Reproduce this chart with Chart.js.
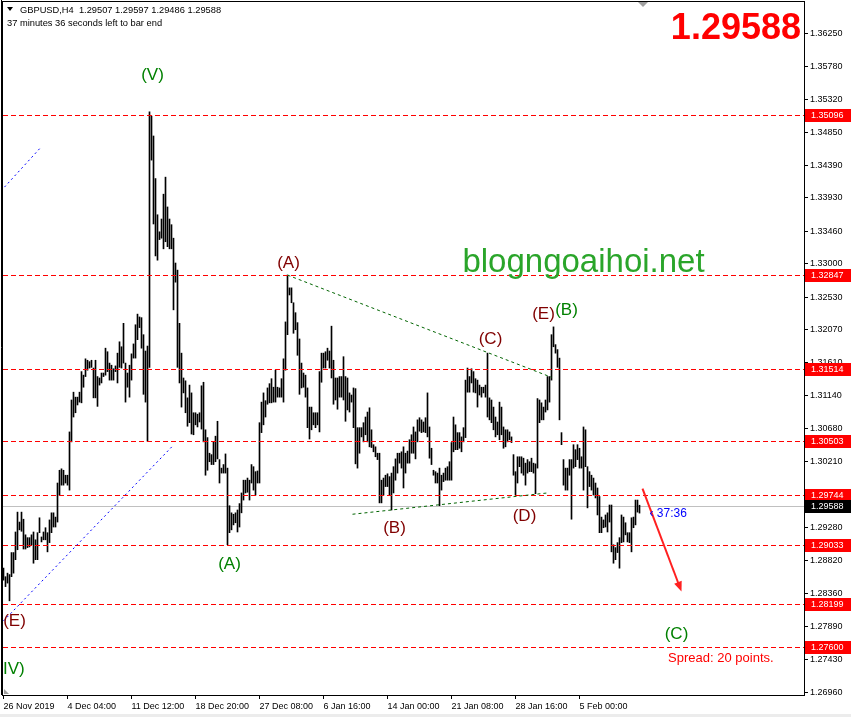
<!DOCTYPE html>
<html><head><meta charset="utf-8">
<script src="https://cdn.jsdelivr.net/npm/chart.js@4.4.1/dist/chart.umd.min.js"></script>
<style>html,body{margin:0;padding:0;background:#fff;}#wrap{width:851px;height:717px;position:relative;overflow:hidden;}</style>
</head><body><div id="wrap"><canvas id="c" width="851" height="717"></canvas></div>
<script>
// ---- Data: H4 bar highs / lows (GBPUSD) ----
const highs = [
1.2871,1.2859,1.2864,1.2862,1.2893,1.2893,1.2922,1.2950,1.2936,1.2950,
1.2940,1.2918,1.2914,1.2914,1.2918,1.2922,1.2911,1.2921,1.2942,1.2915,
1.2922,1.2928,1.2921,1.2939,1.2949,1.2949,1.2943,1.2991,1.3009,1.3011,
1.3009,1.3002,1.3002,1.3063,1.3108,1.3119,1.3112,1.3112,1.3119,1.3148,
1.3143,1.3166,1.3164,1.3162,1.3164,1.3153,1.3164,1.3141,1.3139,1.3146,
1.3146,1.3181,1.3176,1.3160,1.3157,1.3152,1.3156,1.3174,1.3190,1.3183,
1.3216,1.3160,1.3146,1.3157,1.3173,1.3187,1.3214,1.3229,1.3225,1.3224,
1.3200,1.3177,1.3184,1.3514,1.3508,1.3480,1.3420,1.3369,1.3345,1.3363,
1.3398,1.3422,1.3380,1.3363,1.3355,1.3336,1.3301,1.3291,1.3216,1.3174,
1.3139,1.3135,1.3111,1.3129,1.3118,1.3090,1.3090,1.3088,1.3090,1.3128,
1.3133,1.3066,1.3055,1.3033,1.3031,1.3049,1.3057,1.3078,1.3024,1.3012,
1.3017,1.3032,1.3012,1.2959,1.2949,1.2947,1.2949,1.2953,1.2962,1.2977,
1.2995,1.2995,1.2998,1.2995,1.3017,1.3014,1.3007,1.3008,1.3076,1.3105,
1.3118,1.3107,1.3125,1.3131,1.3138,1.3126,1.3150,1.3126,1.3125,1.3138,
1.3166,1.3218,1.3284,1.3266,1.3266,1.3245,1.3231,1.3217,1.3194,1.3160,
1.3146,1.3143,1.3125,1.3098,1.3098,1.3090,1.3090,1.3090,1.3148,1.3174,
1.3174,1.3176,1.3181,1.3177,1.3212,1.3164,1.3139,1.3139,1.3141,1.3141,
1.3169,1.3141,1.3139,1.3118,1.3115,1.3125,1.3124,1.3069,1.3069,1.3069,
1.3076,1.3084,1.3091,1.3097,1.3066,1.3045,1.3042,1.3033,1.3033,1.2995,
1.2998,1.3002,1.3004,1.3000,1.3005,1.3014,1.3025,1.3033,1.3033,1.3035,
1.3042,1.3033,1.3036,1.3052,1.3059,1.3070,1.3063,1.3080,1.3083,1.3080,
1.3077,1.3083,1.3118,1.3070,1.3040,1.3009,1.3007,1.3005,1.3012,1.3002,
1.3005,1.3012,1.3014,1.3021,1.3048,1.3084,1.3073,1.3062,1.3062,1.3056,
1.3069,1.3136,1.3153,1.3141,1.3152,1.3148,1.3138,1.3136,1.3129,1.3126,
1.3126,1.3129,1.3174,1.3111,1.3108,1.3098,1.3084,1.3077,1.3105,1.3098,
1.3070,1.3066,1.3066,1.3063,1.3056,1.3031,1.3007,1.3028,1.3028,1.3028,
1.3026,1.3019,1.3024,1.3021,1.3026,1.3019,1.3018,1.3110,1.3108,1.3104,
1.3098,1.3108,1.3141,1.3141,1.3200,1.3211,1.3186,1.3179,1.3167,1.3062,
1.3024,1.3012,1.3012,1.3024,1.3024,1.3045,1.3038,1.3045,1.3040,1.3028,
1.3070,1.3066,1.3014,1.3007,1.3002,1.2998,1.2991,1.2984,1.2972,1.2943,
1.2939,1.2946,1.2949,1.2960,1.2960,1.2904,1.2900,1.2907,1.2914,1.2946,
1.2943,1.2935,1.2921,1.2921,1.2942,1.2943,1.2967,1.2967,1.29597
];
const lows = [
1.2854,1.2845,1.2850,1.2825,1.2859,1.2864,1.2883,1.2897,1.2925,1.2923,
1.2898,1.2898,1.2900,1.2901,1.2904,1.2878,1.2883,1.2883,1.2921,1.2908,
1.2911,1.2911,1.2894,1.2907,1.2921,1.2929,1.2929,1.2936,1.2974,1.2988,
1.2988,1.2991,1.2988,1.2981,1.3049,1.3084,1.3090,1.3101,1.3105,1.3104,
1.3126,1.3141,1.3150,1.3153,1.3154,1.3111,1.3111,1.3099,1.3129,1.3132,
1.3141,1.3143,1.3148,1.3136,1.3136,1.3136,1.3148,1.3132,1.3154,1.3153,
1.3160,1.3105,1.3126,1.3112,1.3136,1.3167,1.3167,1.3193,1.3210,1.3181,
1.3116,1.3105,1.3050,1.3154,1.3446,1.3356,1.3311,1.3305,1.3334,1.3336,
1.3321,1.3331,1.3324,1.3321,1.3321,1.3235,1.3274,1.3154,1.3132,1.3098,
1.3118,1.3090,1.3071,1.3076,1.3060,1.3059,1.3073,1.3070,1.3077,1.3067,
1.3049,1.3002,1.3009,1.3021,1.3017,1.3017,1.3021,1.3025,1.2991,1.3005,
1.3005,1.3005,1.2904,1.2921,1.2925,1.2932,1.2935,1.2922,1.2929,1.2949,
1.2967,1.2977,1.2978,1.2967,1.2991,1.2981,1.2974,1.2991,1.2991,1.3062,
1.3073,1.3084,1.3102,1.3104,1.3104,1.3105,1.3105,1.3112,1.3112,1.3112,
1.3105,1.3150,1.3200,1.3256,1.3245,1.3202,1.3207,1.3171,1.3116,1.3125,
1.3126,1.3112,1.3069,1.3053,1.3066,1.3073,1.3069,1.3073,1.3063,1.3133,
1.3153,1.3153,1.3164,1.3153,1.3139,1.3102,1.3108,1.3095,1.3112,1.3112,
1.3108,1.3078,1.3094,1.3091,1.3105,1.3069,1.3018,1.3012,1.3033,1.3056,
1.3049,1.3059,1.3049,1.3042,1.3041,1.3035,1.3028,1.3024,1.2963,1.2963,
1.2974,1.2986,1.2986,1.2974,1.2953,1.2977,1.2995,1.3005,1.3019,1.3012,
1.2984,1.3005,1.3019,1.3019,1.3033,1.3033,1.3025,1.3049,1.3064,1.3062,
1.3063,1.3062,1.3056,1.3026,1.3017,1.3002,1.2991,1.2991,1.2959,1.2981,
1.2993,1.2995,1.2995,1.2995,1.2995,1.3035,1.3038,1.3038,1.3040,1.3035,
1.3049,1.3055,1.3119,1.3119,1.3132,1.3119,1.3118,1.3098,1.3115,1.3112,
1.3118,1.3112,1.3084,1.3080,1.3076,1.3066,1.3056,1.3059,1.3052,1.3059,
1.3040,1.3042,1.3049,1.3052,1.3048,1.3002,1.2974,1.2991,1.3014,1.3005,
1.3002,1.2988,1.3005,1.3007,1.3007,1.3005,1.2976,1.3012,1.3076,1.3080,
1.3080,1.3091,1.3094,1.3105,1.3136,1.3183,1.3174,1.3154,1.3080,1.3045,
1.2988,1.2981,1.2981,1.3002,1.2940,1.3012,1.3014,1.3024,1.3012,1.3012,
1.2981,1.3014,1.2956,1.2986,1.2981,1.2974,1.2970,1.2946,1.2921,1.2921,
1.2928,1.2929,1.2922,1.2936,1.2894,1.2878,1.2883,1.2893,1.2871,1.2907,
1.2908,1.2918,1.2908,1.2907,1.2894,1.2928,1.2932,1.2950,1.29486
];
const xTickBars   = [0, 32, 64, 96, 128, 160, 192, 224, 256, 288];
const xTickLabels = ["26 Nov 2019","4 Dec 04:00","11 Dec 12:00","18 Dec 20:00","27 Dec 08:00","6 Jan 16:00","14 Jan 00:00","21 Jan 08:00","28 Jan 16:00","5 Feb 00:00"];
const yTickValues = [1.36250,1.35780,1.35320,1.34850,1.34390,1.33930,1.33460,1.33000,1.32530,1.32070,1.31610,1.31140,1.30680,1.30210,1.29750,1.29280,1.28820,1.28360,1.27890,1.27430,1.26960];
const levelLines  = [1.35096,1.32847,1.31514,1.30503,1.29744,1.29033,1.28199,1.27600];
const bidPrice    = 1.29588;
const header      = {symbol:"GBPUSD,H4", open:"1.29507", high:"1.29597", low:"1.29486", close:"1.29588"};
const waveLabels = [
  {t:"(V)", x:74.5, y:1.3566, c:"#008000"},
  {t:"(A)", x:142.5, y:1.3301, c:"#800000"},
  {t:"(C)", x:243.5, y:1.3193, c:"#800000"},
  {t:"(E)", x:270, y:1.3229, c:"#800000"},
  {t:"(B)", x:281.5, y:1.3234, c:"#008000"},
  {t:"(B)", x:195.5, y:1.2927, c:"#800000"},
  {t:"(D)", x:260.5, y:1.2944, c:"#800000"},
  {t:"(A)", x:113, y:1.2876, c:"#008000"},
  {t:"(E)", x:5.5, y:1.2796, c:"#800000"},
  {t:"(IV)", x:3.75, y:1.2728, c:"#008000"},
  {t:"(C)", x:336.5, y:1.2778, c:"#008000"}
];
const trendLines = [
  {x1:0,   y1:1.27967, x2:84.5, y2:1.3043, c:"#0000ff", dash:[2,3]},
  {x1:0.5, y1:1.3408,  x2:19,   y2:1.3465, c:"#0000ff", dash:[2,3]},
  {x1:142, y1:1.3284,  x2:274,  y2:1.3140, c:"#006400", dash:[3,3]},
  {x1:174.5, y1:1.2947, x2:272, y2:1.2977, c:"#006400", dash:[3,3]}
];
const arrow = {x1:319.5, y1:1.2983, x2:339, y2:1.2838};

const barData = highs.map((h,i)=>({x:i, y:[lows[i], h]}));
const FONT = "'Liberation Sans', Arial, sans-serif";

const overlay = {
  id:'overlay',
  beforeDatasetsDraw(chart){
    const {ctx, chartArea:a, scales:{y}} = chart;
    ctx.save();
    const yb = Math.round(y.getPixelForValue(bidPrice));
    ctx.fillStyle = '#c0c0c0';
    ctx.fillRect(a.left, yb, a.right - a.left, 1);
    ctx.restore();
  },
  afterDatasetsDraw(chart){
    const {ctx, chartArea:a, scales:{x,y}} = chart;
    ctx.save();
    ctx.beginPath(); ctx.rect(a.left, a.top, a.right-a.left, a.bottom-a.top); ctx.clip();
    ctx.fillStyle = '#ff0000';
    levelLines.forEach(v=>{
      const py = Math.round(y.getPixelForValue(v));
      for (let px = a.left; px < a.right; px += 8) ctx.fillRect(px, py, Math.min(5, a.right - px), 1);
    });
    trendLines.forEach(t=>{
      ctx.strokeStyle = t.c; ctx.setLineDash(t.dash); ctx.lineWidth = 1;
      ctx.beginPath();
      ctx.moveTo(x.getPixelForValue(t.x1), y.getPixelForValue(t.y1));
      ctx.lineTo(x.getPixelForValue(t.x2), y.getPixelForValue(t.y2));
      ctx.stroke();
    });
    ctx.setLineDash([]);
    const ax1 = x.getPixelForValue(arrow.x1), ay1 = y.getPixelForValue(arrow.y1);
    const ax2 = x.getPixelForValue(arrow.x2), ay2 = y.getPixelForValue(arrow.y2);
    const ang = Math.atan2(ay2-ay1, ax2-ax1);
    ctx.strokeStyle = '#ff2020'; ctx.fillStyle = '#ff2020'; ctx.lineWidth = 2;
    ctx.beginPath(); ctx.moveTo(ax1, ay1); ctx.lineTo(ax2 - 6*Math.cos(ang), ay2 - 6*Math.sin(ang)); ctx.stroke();
    ctx.beginPath();
    ctx.moveTo(ax2, ay2);
    ctx.lineTo(ax2 - 10*Math.cos(ang) + 4*Math.sin(ang), ay2 - 10*Math.sin(ang) - 4*Math.cos(ang));
    ctx.lineTo(ax2 - 10*Math.cos(ang) - 4*Math.sin(ang), ay2 - 10*Math.sin(ang) + 4*Math.cos(ang));
    ctx.closePath(); ctx.fill();
    ctx.font = "17px " + FONT; ctx.textAlign = 'center'; ctx.textBaseline = 'middle';
    waveLabels.forEach(l=>{
      ctx.fillStyle = l.c;
      ctx.fillText(l.t, x.getPixelForValue(l.x), y.getPixelForValue(l.y));
    });
    ctx.font = "33px " + FONT; ctx.fillStyle = '#2aa52a';
    ctx.fillText("blogngoaihoi.net", x.getPixelForValue(290), y.getPixelForValue(1.3301));
    ctx.font = "12px " + FONT; ctx.fillStyle = '#0000ff'; ctx.textAlign = 'left';
    ctx.fillText("\u2039 37:36", x.getPixelForValue(323), y.getPixelForValue(1.2948));
    ctx.font = "13px " + FONT; ctx.fillStyle = '#ff0000';
    ctx.fillText("Spread: 20 points.", x.getPixelForValue(332.3), y.getPixelForValue(1.2744));
    ctx.restore();
  },
  afterDraw(chart){
    const {ctx, chartArea:a, scales:{y}} = chart;
    ctx.save();
    ctx.strokeStyle = '#000'; ctx.lineWidth = 1;
    ctx.strokeRect(a.left - 0.5, a.top - 0.5, a.right - a.left + 1, a.bottom - a.top + 1);
    ctx.beginPath(); ctx.moveTo(1.5, 0); ctx.lineTo(1.5, a.bottom); ctx.stroke();
    ctx.font = "9px " + FONT; ctx.textBaseline = 'middle'; ctx.textAlign = 'left';
    const box = (v, bg) => {
      const py = Math.round(y.getPixelForValue(v));
      ctx.fillStyle = bg; ctx.fillRect(a.right + 1, py - 6, 46, 13);
      ctx.fillStyle = '#fff'; ctx.fillText(v.toFixed(5), a.right + 7, py + 0.5);
    };
    levelLines.forEach(v=>box(v, '#ff0000'));
    box(bidPrice, '#000');
    ctx.font = "bold 36px " + FONT; ctx.fillStyle = '#ff0000'; ctx.textAlign = 'right'; ctx.textBaseline = 'alphabetic';
    ctx.fillText(header.close, 801, 39);
    ctx.fillStyle = '#000'; ctx.textAlign = 'left'; ctx.font = "9.3px " + FONT; ctx.textBaseline = 'middle';
    ctx.beginPath(); ctx.moveTo(7, 7); ctx.lineTo(13, 7); ctx.lineTo(10, 11); ctx.closePath(); ctx.fill();
    ctx.fillText(header.symbol + "  " + header.open + " " + header.high + " " + header.low + " " + header.close, 20, 10);
    ctx.fillText("37 minutes 36 seconds left to bar end", 7, 23);
    ctx.fillStyle = '#a0a0a0';
    ctx.beginPath(); ctx.moveTo(638, 2); ctx.lineTo(648, 2); ctx.lineTo(643, 7); ctx.closePath(); ctx.fill();
    ctx.beginPath(); ctx.moveTo(4, 689); ctx.lineTo(4, 694); ctx.lineTo(9, 694); ctx.closePath(); ctx.fill();
    ctx.fillStyle = '#ececec'; ctx.fillRect(0, 714, 851, 3);
    ctx.restore();
  }
};

new Chart(document.getElementById('c'), {
  type: 'bar',
  data: { datasets: [{ data: barData, backgroundColor: '#000', borderWidth: 0, barThickness: 1, grouped: false }] },
  options: {
    responsive: false, animation: false, devicePixelRatio: 1,
    layout: { padding: { left: 3, top: 2, right: 0, bottom: 0 } },
    plugins: { legend: { display: false }, tooltip: { enabled: false } },
    scales: {
      x: {
        type: 'linear', min: -0.25, max: 400.25, offset: false, bounds: 'ticks',
        afterFit: s => { s.height = 22; s.paddingLeft = 0; s.paddingRight = 0; },
        afterBuildTicks: s => { s.ticks = xTickBars.map(v=>({value:v})); },
        ticks: { autoSkip: false, maxRotation: 0, align: 'start', padding: 2, color: '#000',
                 font: { family: FONT, size: 9 },
                 callback: (v) => { const k = xTickBars.indexOf(v); return k >= 0 ? xTickLabels[k] : ''; } },
        grid: { display: true, offset: false, drawOnChartArea: false, drawTicks: true, tickLength: 4, color: '#000' },
        border: { display: true, color: '#000' }
      },
      y: {
        type: 'linear', position: 'right', min: 1.26923, max: 1.36688,
        afterFit: s => { s.width = 47; s.paddingTop = 0; s.paddingBottom = 0; },
        afterBuildTicks: s => { s.ticks = yTickValues.map(v=>({value:v})); },
        ticks: { autoSkip: false, padding: 2, color: '#000', font: { family: FONT, size: 9 },
                 callback: v => v.toFixed(5) },
        grid: { display: true, drawOnChartArea: false, drawTicks: true, tickLength: 4, color: '#000' },
        border: { display: true, color: '#000' }
      }
    }
  },
  plugins: [overlay]
});
</script>
</body></html>
